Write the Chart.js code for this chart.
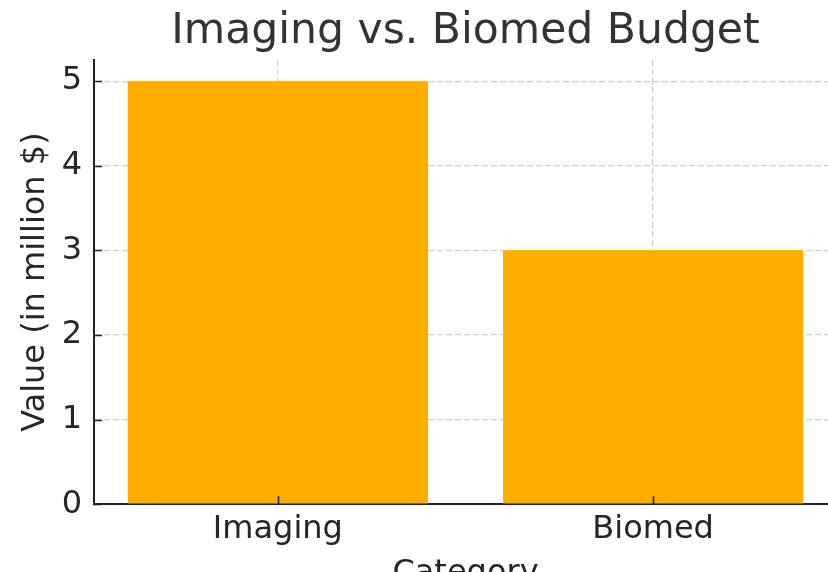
<!DOCTYPE html>
<html>
<head>
<meta charset="utf-8">
<title>Imaging vs. Biomed Budget</title>
<script src="https://cdn.jsdelivr.net/npm/chart.js@4"></script>
<style>
    html, body { margin: 0; padding: 0; overflow: hidden; background: #fff; }
    /* bigger than the window: the plot runs off the right and bottom edges like the original */
    #wrap { width: 932px; height: 603px; }
</style>
</head>
<body>
<div id="wrap"><canvas id="barCanvas"></canvas></div>
<script>
// data
var categories = ['Imaging', 'Biomed'];
var budgetValues = [5, 3];
var yTickValues = [0, 1, 2, 3, 4, 5];

var textColor = '#262626';
var axisColor = '#222222';

Chart.defaults.font.family = "'DejaVu Sans', sans-serif";
Chart.defaults.color = textColor;

// short tick marks pointing into the plot, like the original
var innerTicks = {
    id: 'innerTicks',
    afterDraw: function (chart) {
        var ctx = chart.ctx;
        var area = chart.chartArea;
        var xs = chart.scales.x, ys = chart.scales.y;
        ctx.save();
        ctx.strokeStyle = axisColor;
        ctx.lineWidth = 1.6;
        ctx.beginPath();
        xs.ticks.forEach(function (t) {
            var px = Math.round(xs.getPixelForValue(t.value)) + 0.5;
            ctx.moveTo(px, area.bottom);
            ctx.lineTo(px, area.bottom - 8);
        });
        ys.ticks.forEach(function (t) {
            var py = Math.round(ys.getPixelForValue(t.value)) + 0.5;
            ctx.moveTo(area.left, py);
            ctx.lineTo(area.left + 8, py);
        });
        ctx.stroke();
        ctx.restore();
    }
};

var barCtx = document.getElementById('barCanvas').getContext('2d');
window.myBar = new Chart(barCtx, {
    type: 'bar',
    data: {
        datasets: [{
            label: 'Budget',
            xAxisID: 'x',
            yAxisID: 'y',
            data: budgetValues.map(function (v, i) { return { x: i, y: v }; }),
            backgroundColor: '#FFAE00',
            borderWidth: 0,
            barPercentage: 1,
            categoryPercentage: 0.8
        }]
    },
    options: {
        responsive: true,
        maintainAspectRatio: false,
        animation: false,
        layout: { padding: { left: 0, right: 95, top: 0, bottom: 0 } },
        plugins: {
            legend: { display: false },
            tooltip: { enabled: false }
        },
        scales: {
            x: {
                type: 'linear',
                min: -0.49,
                max: 1.49,
                offset: false,
                z: 1,
                afterBuildTicks: function (scale) {
                    scale.ticks = categories.map(function (c, i) { return { value: i }; });
                },
                ticks: {
                    padding: 6,
                    font: { size: 32 },
                    color: textColor,
                    callback: function (value) { return categories[value]; }
                },
                grid: {
                    offset: false,
                    color: 'rgba(170, 170, 170, 0.55)',
                    lineWidth: 1.3,
                    drawTicks: false
                },
                border: { display: true, color: axisColor, width: 2, dash: [6, 3] },
                title: {
                    display: true,
                    text: 'Category',
                    font: { size: 32 },
                    color: textColor,
                    padding: { top: 0, bottom: 10 }
                }
            },
            y: {
                min: 0,
                max: 5.25,
                z: 1,
                afterBuildTicks: function (scale) {
                    scale.ticks = yTickValues.map(function (v) { return { value: v }; });
                },
                afterFit: function (scale) { scale.width = 94; },
                ticks: {
                    padding: 12,
                    font: { size: 32 },
                    color: textColor
                },
                grid: {
                    color: 'rgba(170, 170, 170, 0.55)',
                    lineWidth: 1.3,
                    drawTicks: false
                },
                border: { display: true, color: axisColor, width: 2, dash: [6, 3] },
                title: {
                    display: true,
                    text: 'Value (in million $)',
                    font: { size: 32 },
                    color: textColor,
                    padding: { top: 16, bottom: 4 }
                }
            },
            // empty top axis, only used so the title is centred over the plot
            top: {
                type: 'linear',
                position: 'top',
                min: 0,
                max: 1,
                grid: { display: false, drawTicks: false },
                border: { display: false },
                ticks: { display: false },
                title: {
                    display: true,
                    text: 'Imaging vs. Biomed Budget',
                    color: '#333333',
                    font: { size: 42.5, weight: 'normal' },
                    padding: { top: 6, bottom: 3 }
                },
                afterFit: function (scale) { scale.height = 60; }
            }
        }
    },
    plugins: [innerTicks]
});
</script>
</body>
</html>
